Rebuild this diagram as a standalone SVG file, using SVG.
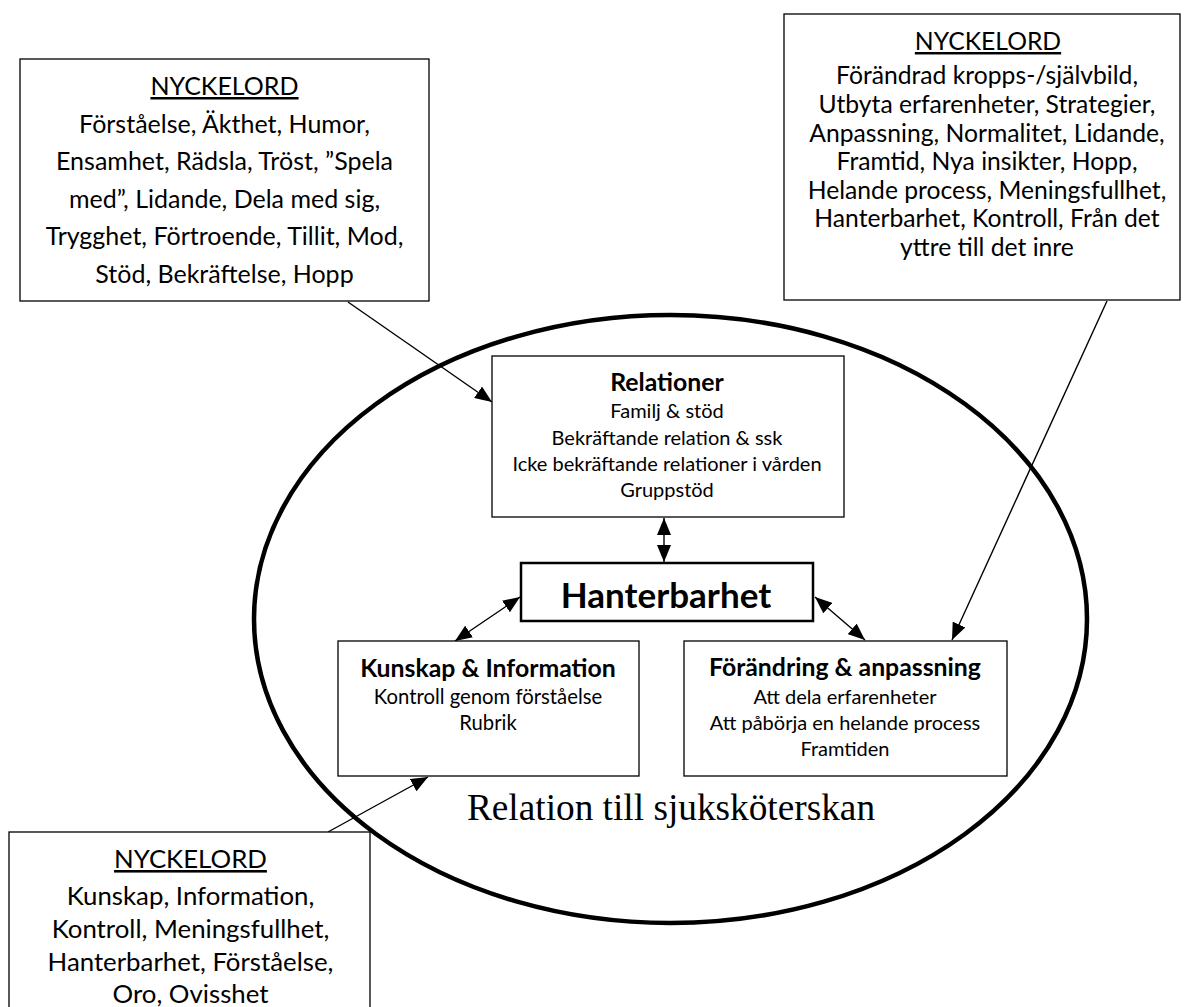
<svg xmlns="http://www.w3.org/2000/svg" width="1185" height="1007" viewBox="0 0 1185 1007">
<defs>
<style>
.box{fill:#fff;stroke:#000;stroke-width:1.3}
.kw{font-family:Lato,"Liberation Sans",sans-serif;fill:#000;text-anchor:middle}
.b{font-weight:bold}
.u{text-decoration:underline}
.con{stroke:#000;stroke-width:1.4;fill:none}
</style>
<marker id="ah" markerUnits="userSpaceOnUse" markerWidth="18" markerHeight="14" refX="17" refY="7" orient="auto-start-reverse" viewBox="0 0 18 14">
<path d="M0,0 L17,7 L0,14 Z" fill="#000"/>
</marker>
</defs>
<rect width="1185" height="1007" fill="#fff"/>
<ellipse id="outer" cx="670.5" cy="619" rx="416.5" ry="304" fill="none" stroke="#000" stroke-width="4.5"/>
<text class="kw" x="671" y="820" style="font-family:'Liberation Serif',serif;font-size:37.3px">Relation till sjuksköterskan</text>
<g id="connectors">
<line class="con" x1="348" y1="302" x2="492" y2="402" marker-end="url(#ah)"/>
<line class="con" x1="664" y1="518" x2="664" y2="562" marker-start="url(#ah)" marker-end="url(#ah)"/>
<line class="con" x1="520" y1="597" x2="455" y2="641" marker-start="url(#ah)" marker-end="url(#ah)"/>
<line class="con" x1="815" y1="597" x2="865" y2="640" marker-start="url(#ah)" marker-end="url(#ah)"/>
<line class="con" x1="1107" y1="301" x2="952" y2="640" marker-end="url(#ah)"/>
<line class="con" x1="328" y1="832" x2="428" y2="777" marker-end="url(#ah)"/>
</g>
<g id="kw-relationer" class="kw" style="font-size:25px">
<rect class="box" x="20" y="59" width="409" height="242"/>
<text class="u" x="224.5" y="95">NYCKELORD</text>
<text x="224.5" y="132.5">Förståelse, Äkthet, Humor,</text>
<text x="224.5" y="170">Ensamhet, Rädsla, Tröst, ”Spela</text>
<text x="224.5" y="207.5">med”, Lidande, Dela med sig,</text>
<text x="224.5" y="245">Trygghet, Förtroende, Tillit, Mod,</text>
<text x="224.5" y="282.5">Stöd, Bekräftelse, Hopp</text>
</g>
<g id="kw-forandring" class="kw" style="font-size:24.7px">
<rect class="box" x="784" y="14" width="396" height="286"/>
<text class="u" x="988" y="50">NYCKELORD</text>
<text x="987" y="84">Förändrad kropps-/självbild,</text>
<text x="987" y="113">Utbyta erfarenheter, Strategier,</text>
<text x="987" y="142">Anpassning, Normalitet, Lidande,</text>
<text x="987" y="170">Framtid, Nya insikter, Hopp,</text>
<text x="987" y="199">Helande process, Meningsfullhet,</text>
<text x="987" y="227">Hanterbarhet, Kontroll, Från det</text>
<text x="987" y="256">yttre till det inre</text>
</g>
<g id="kw-kunskap" class="kw" style="font-size:25.8px">
<rect class="box" x="9" y="832" width="361" height="190"/>
<text class="u" x="190.5" y="868">NYCKELORD</text>
<text x="190.5" y="905">Kunskap, Information,</text>
<text x="190.5" y="938">Kontroll, Meningsfullhet,</text>
<text x="190.5" y="971">Hanterbarhet, Förståelse,</text>
<text x="190.5" y="1003">Oro, Ovisshet</text>
</g>
<g id="relationer" class="kw" style="font-size:20px">
<rect class="box" x="492" y="356" width="352" height="161"/>
<text class="b" x="667" y="391" style="font-size:24.8px">Relationer</text>
<text x="667" y="418">Familj &amp; stöd</text>
<text x="667" y="445">Bekräftande relation &amp; ssk</text>
<text x="667" y="471">Icke bekräftande relationer i vården</text>
<text x="667" y="497">Gruppstöd</text>
</g>
<g id="hanterbarhet" class="kw">
<rect x="521" y="563" width="292" height="58" fill="#fff" stroke="#000" stroke-width="2.5"/>
<text class="b" x="666" y="608" style="font-size:35px">Hanterbarhet</text>
</g>
<g id="kunskap" class="kw" style="font-size:20.3px">
<rect class="box" x="338" y="641" width="301" height="135"/>
<text class="b" x="488" y="677" style="font-size:24.8px">Kunskap &amp; Information</text>
<text x="488" y="704">Kontroll genom förståelse</text>
<text x="488" y="730">Rubrik</text>
</g>
<g id="forandring" class="kw" style="font-size:20px">
<rect class="box" x="684" y="641" width="323" height="135"/>
<text class="b" x="845" y="676" style="font-size:24.8px">Förändring &amp; anpassning</text>
<text x="845" y="704">Att dela erfarenheter</text>
<text x="845" y="730">Att påbörja en helande process</text>
<text x="845" y="756">Framtiden</text>
</g>
</svg>
